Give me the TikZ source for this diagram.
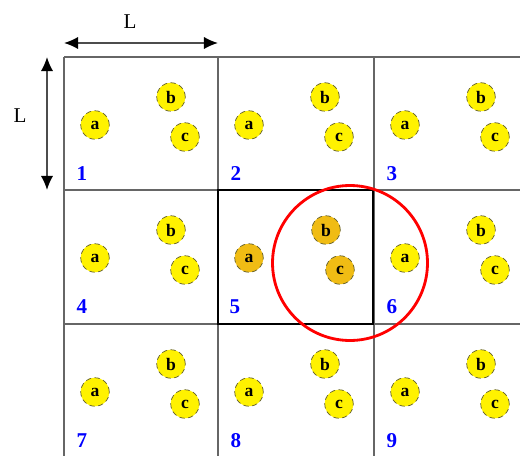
\documentclass[tikz,border=0pt]{standalone}
\usepackage{fontspec}
\setmainfont{Liberation Serif}
\usetikzlibrary{arrows.meta}

\definecolor{gold}{RGB}{240,188,20}

\tikzset{
  atom/.style={circle,draw=olive!60!black,densely dashed,fill=yellow,inner sep=0pt,
    minimum size=0.57cm,font=\bfseries},
  hot/.style={fill=gold},
  cellnum/.style={text=blue,font=\large\bfseries,inner sep=0pt},
  dimarrow/.style={{Latex[length=8pt,width=7pt,black]}-{Latex[length=8pt,width=7pt,black]},
    gray!60!black,line width=0.9pt}
}

\begin{document}
\begin{tikzpicture}[x=0.02cm,y=-0.02cm]
  \useasboundingbox (0,0) rectangle (520,456);
  % grid of cells
  \draw[gray!80!black,line width=0.7pt] (64,57) -- (520,57);
  \draw[gray!80!black,line width=0.7pt] (64,190) -- (520,190);
  \draw[gray!80!black,line width=0.7pt] (64,324) -- (520,324);
  \foreach \x in {64,218,374}
    \draw[gray!80!black,line width=0.7pt] (\x,57) -- (\x,456);
  % central cell
  \draw[line width=1.1pt] (218,190) rectangle (373,324);
  % particles in each cell
  \foreach \k/\x/\y in {1/64/57,2/218/57,3/374/57,4/64/190,6/374/190,7/64/324,8/218/324,9/374/324} {
    \node[atom] (a\k) at (\x+31,\y+68) {a};
    \node[atom] (b\k) at (\x+107,\y+40) {b};
    \node[atom] (c\k) at (\x+121,\y+80) {c};
    \node[cellnum] (n\k) at (\x+18,\y+117) {\k};
  }
  \node[atom,hot] (a5) at (249,258) {a};
  \node[atom,hot] (b5) at (326,230) {b};
  \node[atom,hot] (c5) at (340,270) {c};
  \node[cellnum] (n5) at (235,307) {5};
  % cut-off sphere
  \node[circle,draw=red,line width=1.6pt,minimum size=3.1cm] (cut) at (350,263) {};
  % cell size
  \coordinate (h1) at (64,43);
  \coordinate (h2) at (218,43);
  \coordinate (v1) at (47,57);
  \coordinate (v2) at (47,190);
  \draw[dimarrow] (h1) -- (h2);
  \draw[dimarrow] (v1) -- (v2);
  \node[font=\large] (lh) at (130,22) {L};
  \node[font=\large] (lv) at (20,116) {L};
\end{tikzpicture}
\end{document}
